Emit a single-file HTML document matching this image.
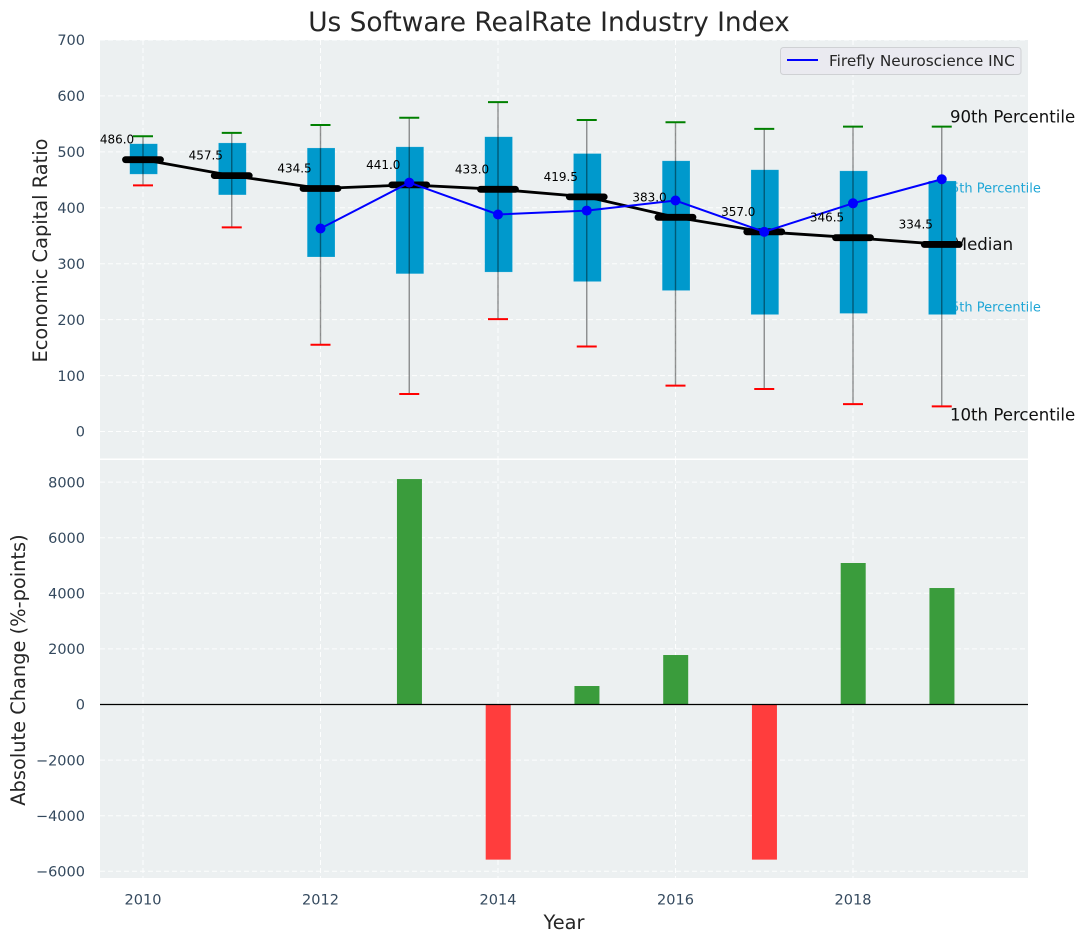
<!DOCTYPE html>
<html>
<head>
<meta charset="utf-8">
<title>Us Software RealRate Industry Index</title>
<style>
html,body{margin:0;padding:0;background:#fff;}
svg{display:block;font-family:"DejaVu Sans","Liberation Sans",sans-serif;}
</style>
</head>
<body>
<svg id="chart" xmlns="http://www.w3.org/2000/svg" width="1085" height="942" viewBox="0 0 1085 942"></svg>
<script>
var years = [2010, 2011, 2012, 2013, 2014, 2015, 2016, 2017, 2018, 2019];
var p90 = [528, 534, 548, 561, 589, 557, 553, 541, 545, 545];
var p75 = [514.5, 516, 507, 509, 527, 497, 484, 468, 466, 448];
var medians = [486, 457.5, 434.5, 441, 433, 419.5, 383, 357, 346.5, 334.5];
var p25 = [460, 423, 312, 282, 285, 268, 252, 209, 211, 209];
var p10 = [440, 365, 155, 67, 201, 152, 82, 76, 49, 45];
var company = [null, null, 363, 445, 388, 395, 413, 357, 408, 451];
var changes = [null, null, null, 8110, -5580, 665, 1780, -5580, 5090, 4190];
var xTicks = [2010, 2012, 2014, 2016, 2018];
var topTicks = [0, 100, 200, 300, 400, 500, 600, 700];
var bottomTicks = [-6000, -4000, -2000, 0, 2000, 4000, 6000, 8000];

var svg = document.getElementById('chart');
var NS = 'http://www.w3.org/2000/svg';
function make(tag, attrs, text, parent) {
  var el = document.createElementNS(NS, tag);
  for (var k in attrs) el.setAttribute(k, attrs[k]);
  if (text !== undefined && text !== null) el.textContent = text;
  (parent || svg).appendChild(el);
  return el;
}
function xs(v) { return 143 + (v - 2010) * 88.75; }
function yTop(v) { return 431.5 - v * 0.5593; }
function yBot(v) { return 704.5 - v * 0.0278; }
function fmt(v) { return v < 0 ? '\u2212' + Math.abs(v) : String(v); }

var el;
var tickColor = '#34495e';
var textColor = '#262626';

el = make('text', {x: 549, y: 31, 'text-anchor': 'middle', 'font-size': 26.4, fill: textColor}, 'Us Software RealRate Industry Index');



el = make('rect', {x: 100, y: 40, width: 928, height: 418.5, fill: '#ecf0f1'});



el = make('rect', {x: 100, y: 460, width: 928, height: 418, fill: '#ecf0f1'});



var gridAttrs = {stroke: '#ffffff', 'stroke-width': 1, 'stroke-dasharray': '5 3', 'stroke-opacity': 0.9};
function gridLine(x1, y1, x2, y2) {
  var a = {x1: x1, y1: y1, x2: x2, y2: y2};
  for (var k in gridAttrs) a[k] = gridAttrs[k];
  return make('line', a);
}

xTicks.forEach(function (t) {
  var g1 = gridLine(xs(t), 40, xs(t), 458.5);
  
  
  var g2 = gridLine(xs(t), 460, xs(t), 878);
  
  
  var lab = make('text', {x: xs(t), y: 904.5, 'text-anchor': 'middle', 'font-size': 14.5, fill: tickColor}, t);
  
  
});

topTicks.forEach(function (t) {
  var g = gridLine(100, yTop(t), 1028, yTop(t));
  
  
  var lab = make('text', {x: 85, y: yTop(t) + 5.2, 'text-anchor': 'end', 'font-size': 14.5, fill: tickColor}, fmt(t));
  
  
});

bottomTicks.forEach(function (t) {
  var g = gridLine(100, yBot(t), 1028, yBot(t));
  
  
  var lab = make('text', {x: 85, y: yBot(t) + 5.2, 'text-anchor': 'end', 'font-size': 14.5, fill: tickColor}, fmt(t));
  
  
});

el = make('text', {x: 47, y: 250.5, 'text-anchor': 'middle', 'font-size': 19.4, fill: textColor, transform: 'rotate(-90 47 250.5)'}, 'Economic Capital Ratio');



el = make('text', {x: 25, y: 670, 'text-anchor': 'middle', 'font-size': 19.4, fill: textColor, transform: 'rotate(-90 25 670)'}, 'Absolute Change (%-points)');



el = make('text', {x: 564, y: 929, 'text-anchor': 'middle', 'font-size': 19.4, fill: textColor}, 'Year');



var lastIdx = years.length - 1;
var lastX = xs(years[lastIdx]);

el = make('text', {x: lastX + 8.2, y: yTop(p90[lastIdx]) - 4, 'font-size': 16.6, fill: '#111'}, '90th Percentile');



el = make('text', {x: lastX + 8.2, y: yTop(p10[lastIdx]) + 14, 'font-size': 16.6, fill: '#111'}, '10th Percentile');



el = make('text', {x: lastX + 1, y: yTop(p75[lastIdx]) + 11.5, 'font-size': 13, fill: '#1fa6d6'}, '75th Percentile');



el = make('text', {x: lastX + 1, y: yTop(p25[lastIdx]) - 3, 'font-size': 13, fill: '#1fa6d6'}, '25th Percentile');



el = make('text', {x: lastX + 11, y: yTop(medians[lastIdx]) + 5.5, 'font-size': 16.6, fill: '#111'}, 'Median');



years.forEach(function (yr, i) {
  var x = xs(yr);
  var box = make('rect', {x: x - 13.3, y: yTop(p75[i]), width: 27.8, height: yTop(p25[i]) - yTop(p75[i]), fill: '#0099cc', stroke: '#ffffff', 'stroke-opacity': 0.3, 'stroke-width': 0.6});
  
  
});

years.forEach(function (yr, i) {
  var x = xs(yr);
  var w = make('line', {x1: x, y1: yTop(p90[i]), x2: x, y2: yTop(p10[i]), stroke: '#000000', 'stroke-opacity': 0.42, 'stroke-width': 1.4});
  
  
  var hi = make('line', {x1: x - 10, y1: yTop(p90[i]), x2: x + 10, y2: yTop(p90[i]), stroke: '#008000', 'stroke-width': 2});
  
  
  var lo = make('line', {x1: x - 10, y1: yTop(p10[i]), x2: x + 10, y2: yTop(p10[i]), stroke: '#ff0000', 'stroke-width': 2});
  
  
});

var medianPts = years.map(function (yr, i) { return xs(yr) + ',' + yTop(medians[i]); }).join(' ');
el = make('polyline', {points: medianPts, fill: 'none', stroke: '#000000', 'stroke-width': 2.8});



years.forEach(function (yr, i) {
  var x = xs(yr);
  var m = make('line', {x1: x - 17.5, y1: yTop(medians[i]), x2: x + 17.5, y2: yTop(medians[i]), stroke: '#000000', 'stroke-width': 6.8, 'stroke-linecap': 'round'});
  
  
});

var companyPts = [];
years.forEach(function (yr, i) {
  if (company[i] !== null) companyPts.push(xs(yr) + ',' + yTop(company[i]));
});
el = make('polyline', {points: companyPts.join(' '), fill: 'none', stroke: '#0000ff', 'stroke-width': 2});



years.forEach(function (yr, i) {
  if (company[i] === null) return;
  var c = make('circle', {cx: xs(yr), cy: yTop(company[i]), r: 5, fill: '#0000ff'});
  
  
});

years.forEach(function (yr, i) {
  var t = make('text', {x: xs(yr) - 26, y: yTop(medians[i]) - 16, 'text-anchor': 'middle', 'font-size': 12, fill: '#000'}, medians[i].toFixed(1));
  
  
});

years.forEach(function (yr, i) {
  var v = changes[i];
  if (v === null) return;
  var top = v >= 0 ? yBot(v) : yBot(0);
  var h = Math.abs(yBot(v) - yBot(0));
  var b = make('rect', {x: xs(yr) - 12.3, y: top, width: 25, height: h, fill: v >= 0 ? '#3a9c3c' : '#ff3d3d'});
  
  
});

el = make('line', {x1: 100, y1: yBot(0), x2: 1028, y2: yBot(0), stroke: '#000000', 'stroke-width': 1.2});



var legend = make('g', {});



el = make('rect', {x: 780.5, y: 47.5, width: 240.5, height: 27, rx: 3, fill: '#eaeaf0', stroke: '#cfd1d4', 'stroke-width': 1}, null, legend);



el = make('line', {x1: 787, y1: 60, x2: 818, y2: 60, stroke: '#0000ff', 'stroke-width': 2}, null, legend);



el = make('text', {x: 829, y: 66, 'font-size': 15.3, fill: textColor}, 'Firefly Neuroscience INC', legend);


</script>
</body>
</html>
